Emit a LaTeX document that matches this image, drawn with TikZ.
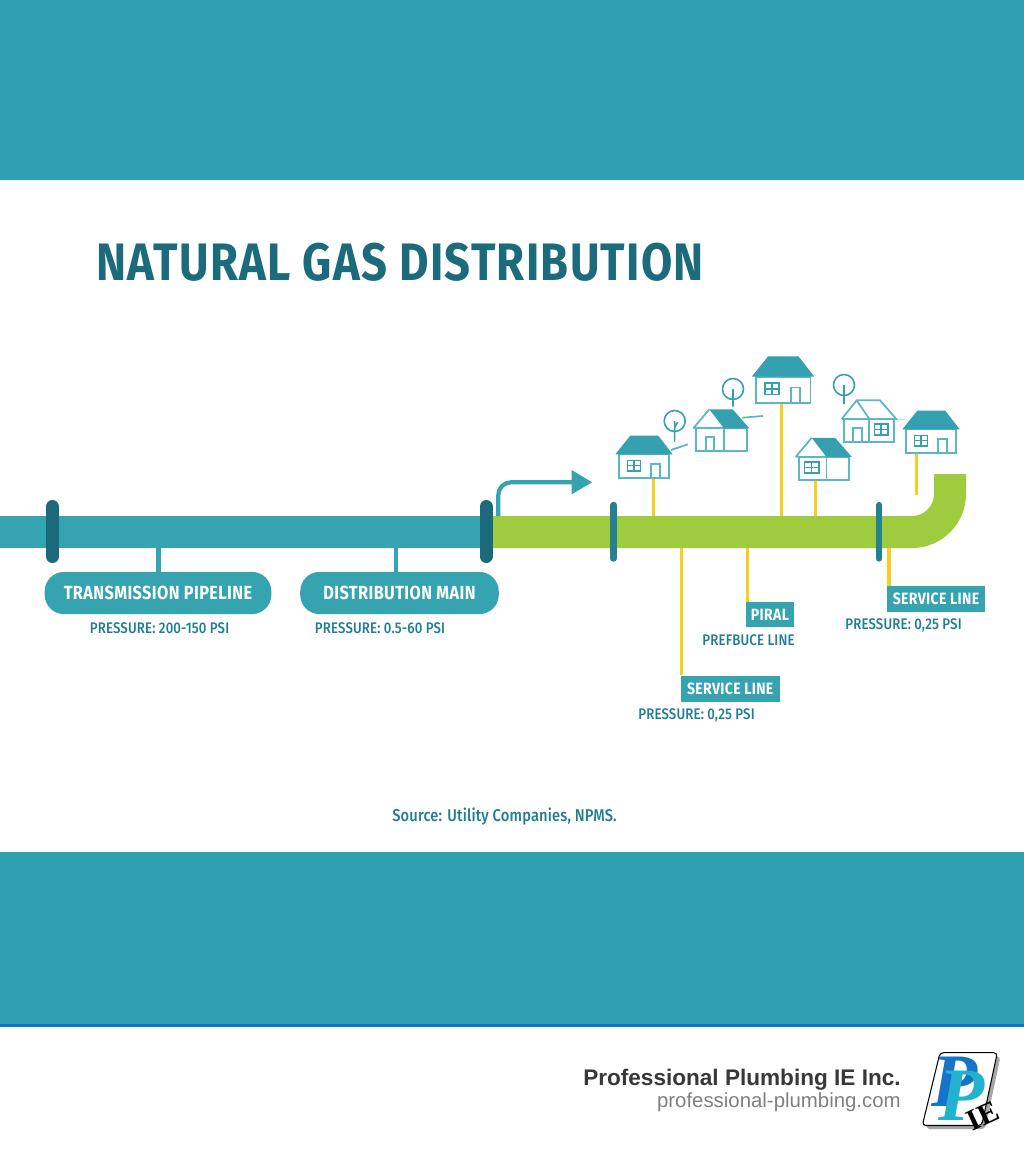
\documentclass[tikz,border=0pt]{standalone}
\usepackage{fontspec}
\setmainfont{Fira Sans}
\newfontfamily\narrowfont[FakeStretch=0.86, LetterSpace=2.1]{Fira Sans}
\newfontfamily\titlefont[FakeStretch=0.86, LetterSpace=2.5]{Fira Sans}
\newfontfamily\notefont[FakeStretch=0.86, LetterSpace=1, UprightFont=* Medium]{Fira Sans}
\newfontfamily\footfont{Liberation Sans}
\newfontfamily\logofont{Liberation Serif}
\definecolor{bandteal}{HTML}{2FA0AF}
\definecolor{pipeteal}{HTML}{35A3B0}
\definecolor{darkteal}{HTML}{1A6A7C}
\definecolor{titleteal}{HTML}{1B6B7D}
\definecolor{textteal}{HTML}{1F7F90}
\definecolor{pipegreen}{HTML}{9FCB3E}
\definecolor{gasyellow}{HTML}{F7CF1E}
\definecolor{housefill}{HTML}{35A0B0}
\definecolor{houseline}{HTML}{5BB7C2}
\definecolor{ruleblue}{HTML}{0A76C4}
\definecolor{logoblue}{HTML}{1673C8}
\definecolor{logocyan}{HTML}{22B2CF}
\tikzset{
  pill/.style={rounded corners=11pt, fill=pipeteal, text=white, inner sep=0pt, font=\narrowfont\fontsize{10.8}{12}\selectfont\bfseries},
  tag/.style={fill=pipeteal, text=white, inner sep=0pt, font=\narrowfont\fontsize{9.3}{11}\selectfont\bfseries},
  note/.style={text=textteal, inner sep=0pt, font=\notefont\fontsize{8.75}{11}\selectfont},
  flange/.style={line width=7.4pt, line cap=round, draw=darkteal},
  thinflange/.style={line width=3.6pt, line cap=round, draw=darkteal!60!pipeteal},
  service/.style={line width=1.8pt, draw=gasyellow},
  stem/.style={line width=2.4pt, draw=pipeteal},
  wall/.style={draw=houseline, line width=1pt, fill=white},
  detail/.style={draw=houseline, line width=1pt},
  pane/.style={draw=housefill, line width=0.9pt},
}
% house with full roof: #1 = left, #2 = eaves height, #3 = scale
\newcommand{\fullhouse}[3]{
  \begin{scope}[shift={(#1,#2)}, scale=#3]
    \filldraw[wall] (4,0) rectangle (54,24);
    \fill[housefill] (0,0) -- (15,-18.6) -- (43,-18.6) -- (57.4,0) -- cycle;
    \draw[pane] (12,6) rectangle (25,16.5) (18.5,6) -- (18.5,16.5) (12,11.2) -- (25,11.2);
    \draw[detail] (36,10) rectangle (44.5,24);
  \end{scope}
}
% house with half roof, #3 = door or window
\newcommand{\halfhouse}[3]{
  \begin{scope}[shift={(#1,#2)}]
    \filldraw[wall] (3,0) rectangle (53.4,22.9);
    \draw[detail] (30.7,0) -- (30.7,22.9);
    \fill[housefill] (16,-19) -- (39.4,-19) -- (56,0) -- (30.7,0) -- cycle;
    \draw[detail] (0,0) -- (16,-19) (0,0) -- (3,0);
    #3
  \end{scope}
}
\begin{document}
\begin{tikzpicture}[x=0.02cm, y=-0.02cm]
  \useasboundingbox (0,0) rectangle (1024,1154);
  \fill[white] (0,0) rectangle (1024,1154);
  % bands
  \fill[bandteal] (0,0) rectangle (1024,180);
  \fill[bandteal] (0,852) rectangle (1024,1025);
  \fill[ruleblue] (0,1024) rectangle (1024,1027);

  \node[anchor=west, text=titleteal, inner sep=0pt, font=\titlefont\fontsize{30}{32}\selectfont\bfseries] (title) at (96,262) {NATURAL GAS DISTRIBUTION};

  % service lines, behind the pipe
  \coordinate (s1) at (653.3,478);
  \coordinate (s1b) at (653.3,517);
  \coordinate (s2) at (781.5,402);
  \coordinate (s2b) at (781.5,517);
  \coordinate (s3) at (815.3,479);
  \coordinate (s3b) at (815.3,517);
  \coordinate (s4) at (916.7,453);
  \coordinate (s4b) at (916.7,495);
  \draw[service] (s1) -- (s1b);
  \draw[service] (s2) -- (s2b);
  \draw[service] (s3) -- (s3b);
  \draw[service] (s4) -- (s4b);

  % pipes
  \fill[pipeteal] (0,516) rectangle (487,548);
  \fill[pipegreen] (487,516) -- (912,516) .. controls (924.15,516) and (934,506.15) .. (934,494) -- (934,474) -- (966,474)
    -- (966,494) .. controls (966,523.8) and (941.8,548) .. (912,548) -- (487,548) -- cycle;

  % flanges
  \coordinate (f1a) at (52.5,506.5); \coordinate (f1b) at (52.5,556.5);
  \coordinate (f2a) at (486,506.5); \coordinate (f2b) at (486,556.5);
  \coordinate (f3a) at (613.5,505); \coordinate (f3b) at (613.5,558.5);
  \coordinate (f4a) at (879.3,505); \coordinate (f4b) at (879.3,558.5);
  \draw[flange] (f1a) -- (f1b);
  \draw[flange] (f2a) -- (f2b);
  \draw[thinflange] (f3a) -- (f3b);
  \draw[thinflange] (f4a) -- (f4b);

  % arrow at the change of pipe
  \coordinate (bend0) at (498.3,516);
  \coordinate (bend1) at (575,482.3);
  \draw[stem] (bend0) -- (498.3,495) .. controls (498.3,488) and (504,482.3) .. (511,482.3) -- (bend1);
  \fill[pipeteal] (571.7,470) -- (592,482.3) -- (571.7,494.3) -- cycle;

  % labels below the teal pipe
  \node[pill, minimum width=129pt, minimum height=24pt] (trans) at (158,593) {TRANSMISSION PIPELINE};
  \node[pill, minimum width=113pt, minimum height=24pt] (dist) at (399.5,593) {DISTRIBUTION MAIN};
  \node[note] (transp) at (159.5,628.5) {PRESSURE: 200-150 PSI};
  \node[note] (distp) at (380,628.5) {PRESSURE: 0.5-60 PSI};
  \coordinate (t0) at (158.5,548);
  \coordinate (d0) at (396,548);
  \draw[stem] (t0) -- (t0 |- trans.north);
  \draw[stem] (d0) -- (d0 |- dist.north);

  % labels below the green pipe
  \node[tag, minimum width=56.3pt, minimum height=14.8pt] (serv1) at (730.2,688.7) {SERVICE LINE};
  \node[tag, minimum width=27.3pt, minimum height=14.2pt] (piral) at (770,614.5) {PIRAL};
  \node[tag, minimum width=55.4pt, minimum height=14.6pt] (serv2) at (936,598.8) {SERVICE LINE};
  \node[note] (serv1p) at (696.5,715.5) {PRESSURE: 0,25 PSI};
  \node[note] (piralp) at (748.5,640.5) {PREFBUCE LINE};
  \node[note] (serv2p) at (903.5,625) {PRESSURE: 0,25 PSI};
  \coordinate (y1) at (681.7,548);
  \coordinate (y2) at (747.3,548);
  \coordinate (y3) at (889,548);
  \draw[service] (y1) -- (y1 |- serv1.north);
  \draw[service] (y2) -- (y2 |- piral.north);
  \draw[service] (y3) -- (y3 |- serv2.north);

  % houses
  \fullhouse{615.3}{454.3}{1}
  \fullhouse{751.7}{376.7}{1.09}
  \fullhouse{902.3}{429.3}{1}
  \halfhouse{693.3}{428.3}{\draw[detail] (12.4,9) rectangle (20.7,22.9);}
  \halfhouse{795.7}{456.8}{\draw[pane] (8.6,5) rectangle (23.3,16) (16,5) -- (16,16) (8.6,10.5) -- (23.3,10.5);}
  % house with the outline roof
  \begin{scope}[shift={(841.7,419)}]
    \draw[wall] (2.6,0) rectangle (52,22.7);
    \draw[detail] (0,0) -- (15,-18.7) -- (38.3,-18.7) -- (54.6,0) -- (27.6,0) -- (15,-18.7);
    \draw[detail] (0,0) -- (2.6,0) (27.6,0) -- (27.6,22.7);
    \draw[detail] (11.6,9.3) rectangle (20,22.7);
    \draw[pane] (32.6,5) rectangle (46.3,16) (39.5,5) -- (39.5,16) (32.6,10.5) -- (46.3,10.5);
  \end{scope}

  % trees and small lines
  \draw[pane] (674.7,421) circle (10.5) (674.7,421) -- (674.7,441.7) (674.7,428) -- (677.5,422);
  \draw[pane] (733,389) circle (10.5) (733,389) -- (733,406.7);
  \draw[pane] (844,385) circle (10.5) (844,385) -- (844,404);
  \draw[detail] (671,450) -- (688,444.3);
  \draw[detail] (742.3,417.7) -- (763,416);
  \draw[houseline!50] (896.5,419) -- (908,420);

  % source line
  \node[note, font=\notefont\fontsize{9.7}{11}\selectfont] (source) at (504.5,817) {Source: Utility Companies, NPMS.};

  % footer
  \node[anchor=east, inner sep=0pt, text=black!78, font=\footfont\fontsize{12.85}{15}\selectfont\bfseries] (company) at (901,1079.5) {Professional Plumbing IE Inc.};
  \node[anchor=east, inner sep=0pt, text=black!50, font=\footfont\fontsize{11.6}{13}\selectfont] (web) at (901,1102) {professional-plumbing.com};

  % logo
  \fill[black!35, rounded corners=2pt] (943,1056.5) -- (1000.5,1056.5) -- (985,1129) -- (926,1129) -- cycle;
  \filldraw[draw=black, fill=white, line width=0.6pt, rounded corners=2pt] (940,1052.7) -- (997.3,1052.7) -- (981.7,1125.5) -- (922.3,1125.5) -- cycle;
  \node[inner sep=0pt, text=logoblue, font=\logofont\fontsize{43}{43}\selectfont\bfseries\itshape] (logop1) at (955,1082) {P};
  \node[inner sep=0pt, text=logocyan, font=\logofont\fontsize{43}{43}\selectfont\bfseries\itshape] (logop2) at (961.5,1096) {P};
  \node[inner sep=0pt, text=black, rotate=25, font=\logofont\fontsize{17}{17}\selectfont\bfseries] (logoie) at (983,1116) {IE};
\end{tikzpicture}
\end{document}
